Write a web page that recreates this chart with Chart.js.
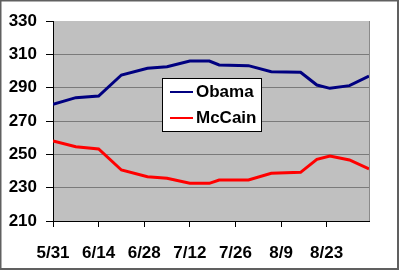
<!DOCTYPE html>
<html>
<head>
<meta charset="utf-8">
<script src="https://cdn.jsdelivr.net/npm/chart.js@4"></script>
<style>
  html, body { margin: 0; padding: 0; background: #fff; }
  #wrap { width: 400px; height: 271px; }
</style>
</head>
<body>
<div id="wrap"><canvas id="chart" width="400" height="271"></canvas></div>
<script>
// days after 5/31 for each poll point
const days = [0, 7, 14, 21, 29, 35, 42, 48, 51, 60, 67, 76, 81, 85, 91, 97];
const obama = [280, 284, 285, 297.6, 301.6, 302.6, 306, 306, 303.6, 303.2, 299.6, 299.2, 291.6, 289.6, 291.2, 297];
const mccain = [258, 254.6, 253.2, 240.6, 236.6, 235.6, 232.6, 232.6, 234.6, 234.6, 238.6, 239.2, 247, 249, 246.6, 241.2];
const dateLabels = ['5/31', '6/14', '6/28', '7/12', '7/26', '8/9', '8/23'];
const seriesNames = ['Obama', 'McCain'];
const seriesColors = ['#000080', '#ff0000'];

const FONT = "'Liberation Sans', Arial, sans-serif";

// white page, grey frame, grey plot area
const backdrop = {
  id: 'backdrop',
  beforeDraw(chart) {
    const { ctx, chartArea: a } = chart;
    ctx.save();
    ctx.fillStyle = '#fff';
    ctx.fillRect(0, 0, chart.width, chart.height);
    ctx.strokeStyle = '#606060';
    ctx.lineWidth = 2;
    ctx.strokeRect(0.5, 0.5, 397.5, 268.5);
    ctx.fillStyle = '#c0c0c0';
    ctx.fillRect(a.left, a.top, a.right - a.left, a.bottom - a.top);
    ctx.strokeStyle = '#8a8a8a';
    ctx.lineWidth = 1;
    ctx.beginPath();
    ctx.moveTo(a.right + 0.5, a.top);
    ctx.lineTo(a.right + 0.5, a.bottom);
    ctx.stroke();
    ctx.restore();
  }
};

// boxed legend sitting inside the plot
const boxLegend = {
  id: 'boxLegend',
  afterDraw(chart) {
    const { ctx } = chart;
    ctx.save();
    ctx.fillStyle = '#fff';
    ctx.fillRect(162, 78, 100, 54);
    ctx.strokeStyle = '#000';
    ctx.lineWidth = 1;
    ctx.strokeRect(162.5, 78.5, 99, 53);
    ctx.font = 'bold 17px ' + FONT;
    ctx.textBaseline = 'middle';
    chart.data.datasets.forEach((ds, i) => {
      const y = 92 + i * 26;
      ctx.strokeStyle = ds.borderColor;
      ctx.lineWidth = 2;
      ctx.beginPath();
      ctx.moveTo(170, y);
      ctx.lineTo(193, y);
      ctx.stroke();
      ctx.fillStyle = '#000';
      ctx.fillText(ds.label, 196, y);
    });
    ctx.restore();
  }
};

new Chart(document.getElementById('chart'), {
  type: 'line',
  data: {
    datasets: [
      { label: seriesNames[0], data: days.map((d, i) => ({ x: d, y: obama[i] })), borderColor: seriesColors[0] },
      { label: seriesNames[1], data: days.map((d, i) => ({ x: d, y: mccain[i] })), borderColor: seriesColors[1] },
    ]
  },
  options: {
    responsive: false,
    animation: false,
    devicePixelRatio: 1,
    layout: { padding: { left: 0, right: 31, top: 21, bottom: 0 } },
    elements: {
      line: { borderWidth: 3, tension: 0 },
      point: { radius: 0 }
    },
    plugins: { legend: { display: false }, tooltip: { enabled: false } },
    scales: {
      x: {
        type: 'linear',
        min: 0,
        max: 97,
        afterFit: s => { s.height = 50; },
        border: { color: '#000', width: 1 },
        grid: { drawOnChartArea: false, tickLength: 6, tickColor: '#000' },
        ticks: {
          stepSize: 14,
          includeBounds: false,
          autoSkip: false,
          maxRotation: 0,
          padding: 16,
          color: '#000',
          font: { family: FONT, size: 17, weight: 'bold' },
          callback: v => dateLabels[v / 14] ?? ''
        }
      },
      y: {
        min: 210,
        max: 330,
        afterFit: s => { s.width = 53; },
        border: { color: '#000', width: 1 },
        grid: {
          color: c => (c.tick && (c.tick.value === 330 || c.tick.value === 210)) ? 'rgba(0,0,0,0)' : '#7a7a7a',
          tickColor: '#000',
          tickLength: 7
        },
        ticks: {
          stepSize: 20,
          padding: 9,
          color: '#000',
          font: { family: FONT, size: 17, weight: 'bold' }
        }
      }
    }
  },
  plugins: [backdrop, boxLegend]
});
</script>
</body>
</html>
